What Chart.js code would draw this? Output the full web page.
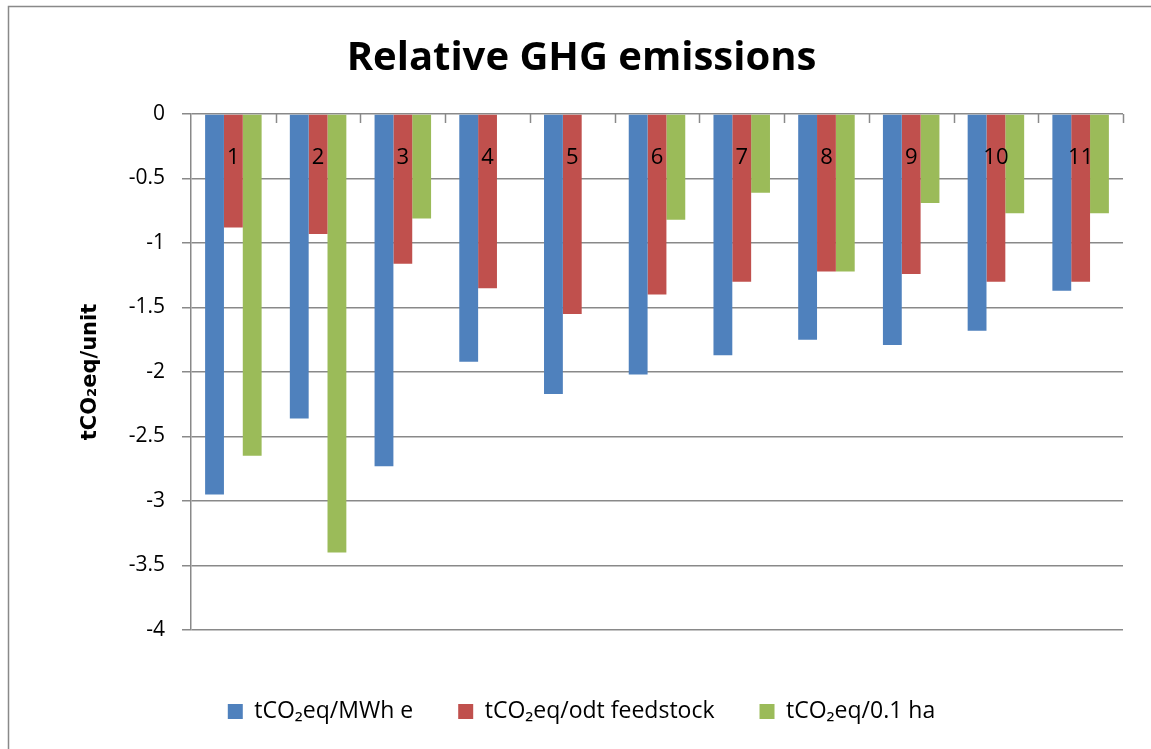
<!DOCTYPE html>
<html>
<head>
<meta charset="utf-8">
<script src="https://cdn.jsdelivr.net/npm/chart.js@4.4.1/dist/chart.umd.min.js"></script>
<style>
  html, body { margin: 0; padding: 0; background: #fff; }
  #wrap { position: absolute; left: 0; top: 0; width: 1151px; height: 749px; }
</style>
</head>
<body>
<div id="wrap"><canvas id="c" width="1151" height="749"></canvas></div>
<script>
const categories = ['1', '2', '3', '4', '5', '6', '7', '8', '9', '10', '11'];
const seriesNames = ['tCO\u2082eq/MWh e', 'tCO\u2082eq/odt feedstock', 'tCO\u2082eq/0.1 ha'];
const mwhValues = [-2.95, -2.36, -2.73, -1.92, -2.17, -2.02, -1.87, -1.75, -1.79, -1.68, -1.37];
const odtValues = [-0.88, -0.93, -1.16, -1.35, -1.55, -1.40, -1.30, -1.22, -1.24, -1.30, -1.30];
const haValues  = [-2.65, -3.40, -0.81, null, null, -0.82, -0.61, -1.22, -0.69, -0.77, -0.77];
const yTickValues = [0, -0.5, -1, -1.5, -2, -2.5, -3, -3.5, -4];
const yTickLabels = ['0', '-0.5', '-1', '-1.5', '-2', '-2.5', '-3', '-3.5', '-4'];
const chartTitle = 'Relative GHG emissions';
const yAxisTitle = 'tCO\u2082eq/unit';

const GRID = '#898989';

const framePlugin = {
  id: 'frame',
  beforeDraw(chart) {
    const ctx = chart.ctx;
    ctx.save();
    ctx.fillStyle = '#fff';
    ctx.fillRect(0, 0, chart.width, chart.height);
    ctx.strokeStyle = GRID;
    ctx.lineWidth = 1.5;
    ctx.beginPath();
    ctx.moveTo(8.5, chart.height);
    ctx.lineTo(8.5, 6.5);
    ctx.lineTo(chart.width, 6.5);
    ctx.stroke();
    ctx.restore();
  }
};

const catLabelPlugin = {
  id: 'catLabels',
  afterDatasetsDraw(chart) {
    const ctx = chart.ctx;
    const x = chart.scales.x, y = chart.scales.y;
    const y0 = y.getPixelForValue(0);
    ctx.save();
    ctx.strokeStyle = GRID;
    ctx.lineWidth = 1.5;
    for (let i = 1; i <= categories.length; i++) {
      const px = Math.round(x.getPixelForValue(i - 0.5)) + 0.5;
      ctx.beginPath();
      ctx.moveTo(px, y0);
      ctx.lineTo(px, y0 + 9);
      ctx.stroke();
    }
    ctx.fillStyle = '#000';
    ctx.font = '22px "Open Sans"';
    ctx.textAlign = 'center';
    ctx.textBaseline = 'middle';
    categories.forEach((c, i) => {
      ctx.fillText(c, x.getPixelForValue(i), y0 + 44);
    });
    ctx.restore();
  }
};

new Chart(document.getElementById('c'), {
  type: 'bar',
  data: {
    labels: categories,
    datasets: [
      { label: seriesNames[0], data: mwhValues, backgroundColor: '#4F81BD' },
      { label: seriesNames[1], data: odtValues, backgroundColor: '#C0504D' },
      { label: seriesNames[2], data: haValues, backgroundColor: '#9BBB59' }
    ]
  },
  options: {
    responsive: false,
    animation: false,
    devicePixelRatio: 1,
    categoryPercentage: 0.667,
    barPercentage: 1.0,
    layout: { padding: { left: 40, right: 28, top: 0, bottom: 16 } },
    plugins: {
      title: {
        display: true,
        text: chartTitle,
        color: '#000',
        font: { family: '"Open Sans"', size: 40, weight: 'bold', lineHeight: 1.2 },
        padding: { top: 35, bottom: 31 }
      },
      legend: {
        display: true,
        position: 'bottom',
        labels: {
          color: '#000',
          font: { family: '"Open Sans"', size: 23 },
          boxWidth: 15,
          boxHeight: 15,
          padding: 45
        }
      },
      tooltip: { enabled: false }
    },
    scales: {
      x: {
        display: true,
        grid: { display: false },
        border: { display: false },
        ticks: { display: false },
        afterFit: (s) => { s.height = 25; }
      },
      y: {
        min: -4,
        max: 0,
        afterBuildTicks: (s) => { s.ticks = yTickValues.map(v => ({ value: v })); },
        afterFit: (s) => { s.width = 151; },
        ticks: {
          color: '#000',
          font: { family: '"Open Sans"', size: 21 },
          padding: 17,
          callback: (v) => { const i = yTickValues.indexOf(v); return i >= 0 ? yTickLabels[i] : ''; }
        },
        grid: { color: GRID, lineWidth: 1.5, tickLength: 9, drawTicks: true },
        border: { color: GRID, width: 1.5 },
        title: {
          display: true,
          text: yAxisTitle,
          color: '#000',
          font: { family: '"DejaVu Sans"', size: 21, weight: 'bold', lineHeight: 1.2 },
          padding: { top: 38, bottom: 0 }
        }
      }
    }
  },
  plugins: [framePlugin, catLabelPlugin]
});
</script>
</body>
</html>
